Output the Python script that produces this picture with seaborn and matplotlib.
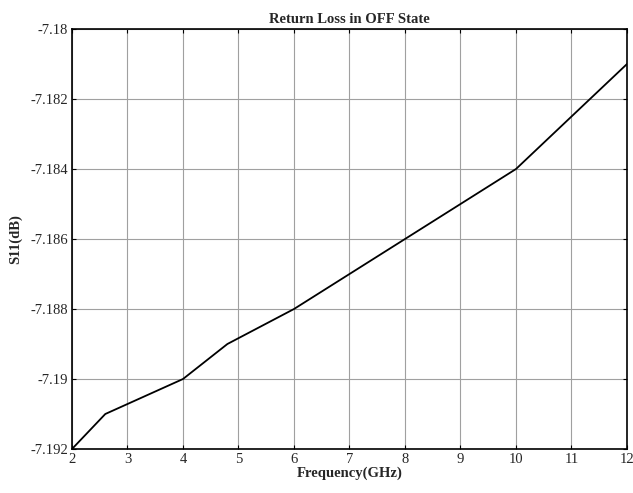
import matplotlib
matplotlib.use("Agg")
import matplotlib.pyplot as plt
import seaborn as sns
import numpy as np

freq_ghz = [2, 2.6, 4, 4.8, 6, 8, 10, 12]
s11_db = [-7.192, -7.191, -7.190, -7.189, -7.188, -7.186, -7.184, -7.181]

x_ticks = [2, 3, 4, 5, 6, 7, 8, 9, 10, 11, 12]
y_ticks = [-7.192, -7.19, -7.188, -7.186, -7.184, -7.182, -7.18]
y_tick_labels = ["-7.192", "-7.19", "-7.188", "-7.186", "-7.184", "-7.182", "-7.18"]

sns.set_style("white")
plt.rcParams["font.family"] = ["Liberation Serif", "DejaVu Serif"]

fig = plt.figure(figsize=(6.33, 4.93), dpi=100)
ax = fig.add_axes([72 / 633, 44 / 493, 555 / 633, 420 / 493])

sns.lineplot(x=freq_ghz, y=s11_db, color="black", linewidth=1.3, ax=ax)

ax.set_xlim(2, 12)
ax.set_ylim(-7.192, -7.18)
ax.set_xticks(x_ticks)
ax.set_yticks(y_ticks)
ax.set_yticklabels(y_tick_labels)
ax.grid(True, color="#a0a0a0", linewidth=0.8)
ax.tick_params(direction="in", length=3, width=0.8, labelsize=10.5,
               top=True, right=True, bottom=True, left=True, color="black", pad=3)
for s in ax.spines.values():
    s.set_color("black")
    s.set_linewidth(1.2)

ax.set_title("Return Loss in OFF State", fontsize=10.5, fontweight="bold", pad=4)
ax.set_xlabel("Frequency(GHz)", fontsize=10.5, fontweight="bold", labelpad=0)
ax.set_ylabel("S11(dB)", fontsize=10.5, fontweight="bold", labelpad=6)

plt.savefig("out.png", dpi=100)
